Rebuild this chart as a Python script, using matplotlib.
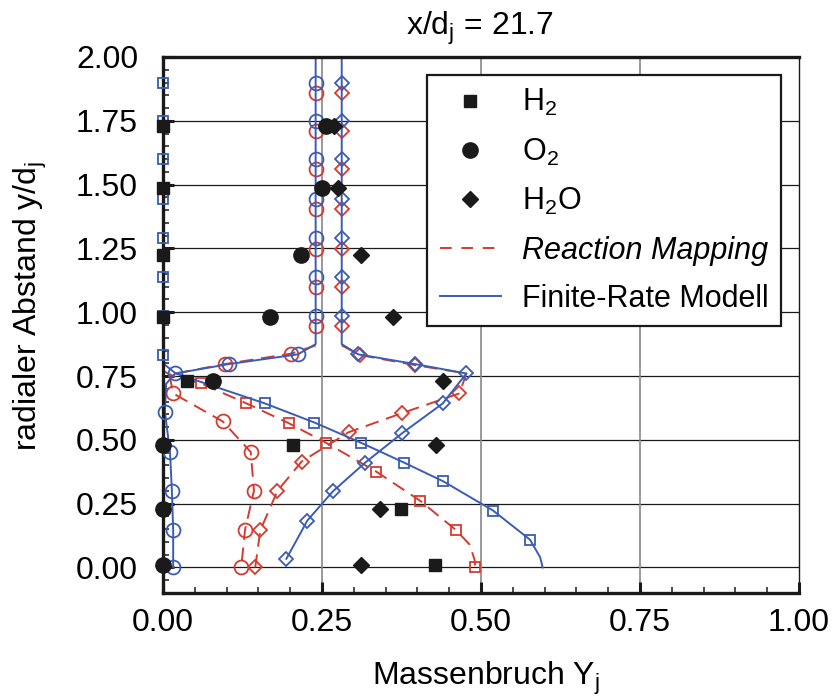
import matplotlib
matplotlib.use("Agg")
import matplotlib.pyplot as plt
from matplotlib.lines import Line2D
from matplotlib.ticker import MultipleLocator

plt.rcParams['font.family'] = ['Liberation Sans', 'DejaVu Sans']
plt.rcParams['mathtext.fontset'] = 'custom'
plt.rcParams['mathtext.rm'] = 'Liberation Sans'
plt.rcParams['mathtext.it'] = 'Liberation Sans:italic'

RED = '#d63a2f'
BLUE = '#3a5cb4'
BLACK = '#1a1a1a'

# ================= experiment (filled black) =================
y_exp = [1.73, 1.485, 1.225, 0.98, 0.73, 0.48, 0.23, 0.01]
h2_exp = [0.0, 0.0, 0.0, 0.0, 0.037, 0.205, 0.374, 0.428]
o2_exp = [0.256, 0.25, 0.217, 0.169, 0.079, 0.0, 0.0, 0.0]
h2o_exp = [0.269, 0.275, 0.311, 0.361, 0.44, 0.43, 0.341, 0.311]

# ================= Finite-Rate Modell (blue) =================
fr_top_y = [1.90, 1.75, 1.60, 1.445, 1.29, 1.138, 0.985]

fr_h2_line_x = [0.0, 0.0, 0.02, 0.160, 0.238, 0.311, 0.379, 0.441, 0.519, 0.577, 0.593, 0.597]
fr_h2_line_y = [2.0, 0.80, 0.76, 0.643, 0.568, 0.489, 0.411, 0.337, 0.223, 0.109, 0.04, 0.0]
fr_h2_mk_x = [0.0] * 7 + [0.0, 0.160, 0.238, 0.311, 0.379, 0.441, 0.519, 0.577]
fr_h2_mk_y = fr_top_y + [0.832, 0.643, 0.568, 0.489, 0.411, 0.337, 0.223, 0.109]

fr_o2_line_x = [0.240, 0.240, 0.212, 0.104, 0.019, 0.005, 0.003, 0.011, 0.014, 0.016, 0.016]
fr_o2_line_y = [2.0, 0.875, 0.835, 0.797, 0.76, 0.72, 0.61, 0.452, 0.298, 0.146, 0.0]
fr_o2_mk_x = [0.240] * 7 + [0.212, 0.104, 0.019, 0.003, 0.011, 0.014, 0.016, 0.016]
fr_o2_mk_y = fr_top_y + [0.835, 0.797, 0.76, 0.61, 0.452, 0.298, 0.146, 0.0]

fr_h2o_line_x = [0.281, 0.281, 0.307, 0.396, 0.477, 0.44, 0.376, 0.318, 0.267, 0.227, 0.194]
fr_h2o_line_y = [2.0, 0.875, 0.835, 0.797, 0.76, 0.643, 0.526, 0.411, 0.298, 0.184, 0.034]
fr_h2o_mk_x = [0.281] * 7 + [0.307, 0.396, 0.477, 0.44, 0.376, 0.318, 0.267, 0.227, 0.194]
fr_h2o_mk_y = fr_top_y + [0.835, 0.797, 0.76, 0.643, 0.526, 0.411, 0.298, 0.184, 0.034]

# ================= Reaction Mapping (red) =================
rm_top_y = [1.86, 1.711, 1.561, 1.405, 1.249, 1.099, 0.945]

rm_h2_line_x = [0.0, 0.02, 0.06, 0.131, 0.198, 0.256, 0.335, 0.404, 0.461, 0.482, 0.49, 0.491]
rm_h2_line_y = [0.77, 0.745, 0.721, 0.643, 0.565, 0.489, 0.376, 0.262, 0.146, 0.09, 0.03, 0.0]
rm_h2_mk_x = [0.06, 0.131, 0.198, 0.256, 0.335, 0.404, 0.461, 0.491]
rm_h2_mk_y = [0.721, 0.643, 0.565, 0.489, 0.376, 0.262, 0.146, 0.0]

rm_o2_line_x = [0.240, 0.202, 0.097, 0.01, 0.016, 0.094, 0.138, 0.143, 0.129, 0.123]
rm_o2_line_y = [0.87, 0.838, 0.797, 0.755, 0.682, 0.572, 0.452, 0.30, 0.148, 0.0]
rm_o2_mk_x = [0.240] * 7 + [0.202, 0.097, 0.016, 0.094, 0.138, 0.143, 0.129, 0.123]
rm_o2_mk_y = rm_top_y + [0.838, 0.797, 0.682, 0.572, 0.452, 0.30, 0.148, 0.0]

rm_h2o_line_x = [0.281, 0.31, 0.396, 0.477, 0.466, 0.375, 0.292, 0.218, 0.180, 0.153, 0.145]
rm_h2o_line_y = [0.87, 0.832, 0.793, 0.76, 0.682, 0.604, 0.530, 0.415, 0.30, 0.146, 0.0]
rm_h2o_mk_x = [0.281] * 7 + [0.31, 0.396, 0.466, 0.375, 0.292, 0.218, 0.180, 0.153, 0.145]
rm_h2o_mk_y = rm_top_y + [0.832, 0.793, 0.682, 0.604, 0.530, 0.415, 0.30, 0.146, 0.0]

x_ticks = [0.0, 0.25, 0.5, 0.75, 1.0]
y_ticks = [0.0, 0.25, 0.5, 0.75, 1.0, 1.25, 1.5, 1.75, 2.0]

fig = plt.figure(figsize=(8.34, 7), dpi=100)
ax = fig.add_axes([163 / 834, 107 / 700, 636 / 834, 536 / 700])

# red dashed
dash = (0, (7, 4))
for lx, ly, mx, my, m, ms in [
        (rm_h2_line_x, rm_h2_line_y, rm_h2_mk_x, rm_h2_mk_y, 's', 7.5),
        (rm_o2_line_x, rm_o2_line_y, rm_o2_mk_x, rm_o2_mk_y, 'o', 10),
        (rm_h2o_line_x, rm_h2o_line_y, rm_h2o_mk_x, rm_h2o_mk_y, 'D', 7)]:
    ax.plot(lx, ly, color=RED, lw=1.4, ls=dash, zorder=3, clip_on=False)
    ax.plot(mx, my, ls='none', marker=m, ms=ms, mfc='none', mec=RED, mew=1.3,
            zorder=3, clip_on=False)

# blue solid
for lx, ly, mx, my, m, ms in [
        (fr_h2_line_x, fr_h2_line_y, fr_h2_mk_x, fr_h2_mk_y, 's', 7.5),
        (fr_o2_line_x, fr_o2_line_y, fr_o2_mk_x, fr_o2_mk_y, 'o', 10),
        (fr_h2o_line_x, fr_h2o_line_y, fr_h2o_mk_x, fr_h2o_mk_y, 'D', 7)]:
    ax.plot(lx, ly, color=BLUE, lw=1.4, zorder=4, clip_on=False)
    ax.plot(mx, my, ls='none', marker=m, ms=ms, mfc='none', mec=BLUE, mew=1.3,
            zorder=4.6, clip_on=False)

# experiment
ax.plot(h2_exp, y_exp, ls='none', marker='s', ms=8.6, color=BLACK, zorder=5, clip_on=False)
ax.plot(o2_exp, y_exp, ls='none', marker='o', ms=11, color=BLACK, zorder=5, clip_on=False)
ax.plot(h2o_exp, y_exp, ls='none', marker='D', ms=7.8, color=BLACK, zorder=5, clip_on=False)

ax.set_xlim(0, 1)
ax.set_ylim(-0.1, 2.0)
ax.set_xticks(x_ticks)
ax.set_yticks(y_ticks)
ax.set_xticklabels(['%.2f' % v for v in x_ticks])
ax.set_yticklabels(['%.2f' % v for v in y_ticks])
ax.xaxis.set_minor_locator(MultipleLocator(0.05))
ax.yaxis.set_minor_locator(MultipleLocator(0.05))
ax.tick_params(which='major', direction='in', length=8, width=2.2, labelsize=23,
               top=False, right=False, color=BLACK)
ax.tick_params(which='minor', direction='in', length=4.5, width=1.1,
               top=False, right=False, color=BLACK)
ax.tick_params(axis='x', which='major', pad=11)
ax.tick_params(axis='y', which='major', pad=18)

for y in y_ticks:
    ax.axhline(y, color=BLACK, lw=0.9, zorder=1)
for x in x_ticks[1:-1]:
    ax.axvline(x, color='#888888', lw=1.2, zorder=1)

for s in ['left', 'bottom', 'top']:
    ax.spines[s].set_linewidth(2.4)
    ax.spines[s].set_color(BLACK)
    ax.spines[s].set_zorder(4.5)
ax.spines['right'].set_linewidth(1.0)
ax.spines['right'].set_color(BLACK)

handles = [
    Line2D([], [], ls='none', marker='s', ms=8.6, color=BLACK),
    Line2D([], [], ls='none', marker='o', ms=11, color=BLACK),
    Line2D([], [], ls='none', marker='D', ms=7.8, color=BLACK),
    Line2D([], [], color=RED, lw=1.4, ls=(0, (6, 5))),
    Line2D([], [], color=BLUE, lw=1.4),
]
labels = [r'H$_\mathrm{2}$', r'O$_\mathrm{2}$', r'H$_\mathrm{2}$O',
          'Reaction Mapping', 'Finite-Rate Modell']
leg = ax.legend(handles, labels, loc='upper right',
                bbox_to_anchor=(1 - 18 / 636, (593 - 75) / 536),
                borderaxespad=0, fancybox=False, edgecolor=BLACK, framealpha=1,
                fontsize=22, handlelength=2.0, handletextpad=0.7,
                labelspacing=0.6, borderpad=0.4)
leg.get_frame().set_linewidth(1.6)
leg.set_zorder(6)
leg.get_texts()[3].set_style('italic')

fig.text(480 / 834, 1 - 28 / 700, r'x/d$_\mathrm{j}$ = 21.7', ha='center', va='center', fontsize=23)
fig.text(486 / 834, 1 - 678 / 700, r'Massenbruch Y$_\mathrm{j}$', ha='center', va='center', fontsize=23)
fig.text(30 / 834, 1 - 306 / 700, r'radialer Abstand y/d$_\mathrm{j}$', ha='center', va='center',
         rotation=90, fontsize=23)

fig.savefig('out.png', dpi=100)
